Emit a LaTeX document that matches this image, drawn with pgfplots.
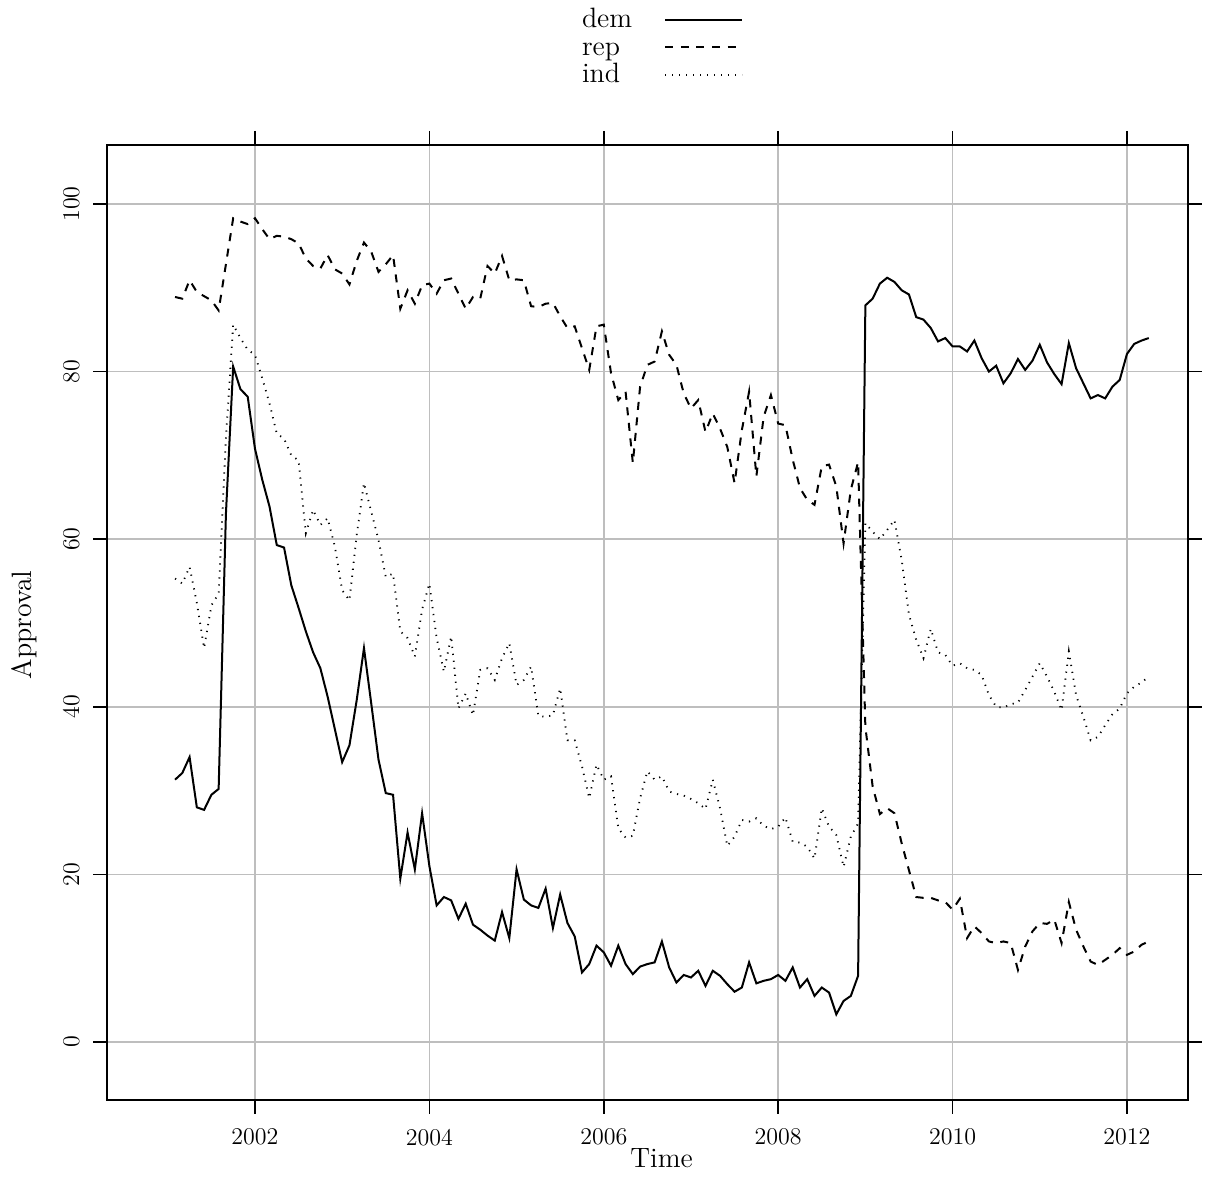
\documentclass[border=0pt]{standalone}
\usepackage{pgfplots}
\pgfplotsset{compat=1.18}
\usepackage{pgfplotstable}

\definecolor{gridgray}{RGB}{190,190,190}

% Monthly approval by party identification; m = months since January 2001
\pgfplotstableread{
m dem rep ind
1 31.3 88.9 55.3
2 32.1 88.7 54.7
3 34.0 90.9 56.7
4 28.0 89.5 52.4
5 27.7 89.0 47.0
6 29.5 88.5 52.1
7 30.2 87.3 53.5
8 63.0 92.8 72.0
9 80.6 98.3 85.6
10 77.9 97.9 84.0
11 77.0 97.6 82.6
12 70.8 98.3 82.0
13 67.1 97.0 79.2
14 63.9 95.8 76.2
15 59.3 96.2 72.6
16 59.0 96.1 72.0
17 54.5 95.8 70.0
18 51.8 95.3 69.4
19 49.0 93.5 60.7
20 46.5 92.6 63.5
21 44.6 92.3 61.7
22 41.2 93.9 62.5
23 37.3 92.2 59.1
24 33.4 91.7 53.9
25 35.4 90.4 52.7
26 40.8 93.2 60.5
27 47.0 95.4 66.7
28 40.4 94.3 63.3
29 33.7 91.9 59.9
30 29.7 92.8 55.5
31 29.5 93.9 55.9
32 19.5 87.5 49.0
33 25.0 89.7 48.2
34 20.6 88.1 46.0
35 27.3 90.3 51.6
36 21.0 90.5 54.7
37 16.3 89.3 48.2
38 17.3 90.9 44.2
39 16.9 91.1 48.4
40 14.7 89.3 39.8
41 16.5 87.5 41.6
42 14.0 88.9 39.0
43 13.4 88.7 44.4
44 12.7 92.6 44.6
45 12.1 91.7 43.2
46 15.5 93.8 45.8
47 12.4 90.9 47.6
48 20.6 91.0 42.6
49 17.0 90.9 43.2
50 16.3 87.8 44.8
51 16.0 87.7 38.9
52 18.3 88.1 38.8
53 13.6 88.2 39.0
54 17.6 86.6 42.2
55 14.2 85.2 36.0
56 12.6 85.4 36.0
57 8.3 82.8 32.9
58 9.3 80.2 29.1
59 11.5 85.4 33.1
60 10.7 85.6 31.3
61 9.1 79.8 31.7
62 11.5 76.6 25.5
63 9.3 77.6 24.4
64 8.1 69.1 24.6
65 9.0 78.2 29.1
66 9.3 80.8 32.3
67 9.5 81.2 31.3
68 12.0 84.8 31.7
69 8.9 82.0 29.9
70 7.1 80.8 29.6
71 8.0 77.4 29.4
72 7.7 75.6 29.0
73 8.5 76.6 28.5
74 6.7 72.8 27.8
75 8.5 75.0 31.3
76 7.9 73.2 27.9
77 6.9 71.0 23.4
78 6.0 66.7 24.5
79 6.5 73.0 26.5
80 9.5 77.6 26.3
81 7.0 67.5 26.7
82 7.3 74.6 25.8
83 7.5 77.2 25.4
84 8.0 73.8 25.7
85 7.3 73.6 26.8
86 8.9 69.5 23.9
87 6.5 66.1 23.8
88 7.5 64.7 23.3
89 5.5 64.1 21.9
90 6.5 68.7 27.9
91 5.9 68.9 25.7
92 3.3 66.3 24.7
93 4.9 59.5 20.9
94 5.5 65.9 24.5
95 7.9 69.2 26.1
96 87.9 37.6 61.9
97 88.7 30.5 60.9
98 90.5 27.2 60.0
99 91.2 27.9 61.1
100 90.7 27.3 62.3
101 89.7 23.7 57.5
102 89.2 20.5 51.0
103 86.5 17.3 48.0
104 86.2 17.2 45.8
105 85.2 17.2 49.3
106 83.6 16.9 46.5
107 84.0 16.7 46.2
108 83.0 15.8 44.9
109 83.0 17.1 45.2
110 82.4 12.4 44.6
111 83.7 13.8 44.4
112 81.6 13.0 43.8
113 80.0 12.0 41.4
114 80.7 11.8 40.0
115 78.6 12.0 39.9
116 79.8 11.8 40.3
117 81.5 8.6 40.5
118 80.2 11.4 42.0
119 81.3 13.2 43.6
120 83.2 14.2 45.2
121 81.1 14.1 43.6
122 79.7 14.6 41.8
123 78.5 11.8 39.6
124 83.4 16.7 46.6
125 80.4 13.4 41.4
126 78.6 11.4 38.8
127 76.8 9.6 36.0
128 77.2 9.2 36.4
129 76.8 9.8 37.8
130 78.2 10.4 39.1
131 79.0 11.2 39.8
132 82.1 10.4 41.6
133 83.3 10.8 42.4
134 83.7 11.6 42.9
135 84.0 12.0 43.6
}\approval

\begin{document}
\begin{tikzpicture}
\begin{axis}[
  at={(0pt,0pt)}, anchor=south west,
  scale only axis, width=540.5pt, height=477.5pt,
  xmin=2000.303, xmax=2012.70,
  ymin=-6.92, ymax=107.04,
  xtick={2002,2004,2006,2008,2010,2012},
  xticklabels={2002,2004,2006,2008,2010,2012},
  ytick={0,20,40,60,80,100},
  yticklabels={0,20,40,60,80,100},
  grid=major,
  major grid style={line width=0.8pt, color=gridgray},
  axis line style={line width=0.9pt, black},
  tick align=outside,
  major tick length=7pt,
  tick style={line width=0.8pt, black},
  ticklabel style={font=\fontsize{12}{14}\selectfont},
  xticklabel style={anchor=north, inner sep=0pt},
  xticklabel shift=7.3pt,
  yticklabel style={rotate=90, anchor=south, inner sep=0pt},
  yticklabel shift=6.5pt,
  xlabel={Time},
  ylabel={Approval},
  label style={font=\fontsize{14}{16}\selectfont, inner sep=0pt},
  xlabel style={at={(axis description cs:0.513,-0.0702)}, anchor=base},
  ylabel style={at={(axis description cs:-0.0694,0.4974)}, anchor=base},
  legend plot pos=right,
  legend style={
    at={(axis description cs:0.4394,1.1445)}, anchor=north west,
    draw=none, fill=none, inner sep=0pt, outer sep=0pt,
    font=\fontsize{14}{16}\selectfont,
    cells={anchor=base west},
    nodes={inner sep=0pt, text height=10.5pt, text depth=3.25pt},
    row sep=0pt,
  },
  legend image code/.code={%
    \path (0pt,0pt);
    \draw[#1] (16pt,4pt) -- (54.5pt,4pt);
  },
]
\addplot[black, line width=1pt] table[x expr=2001+\thisrow{m}/12, y=dem] {\approval};
\addlegendentry{dem}
\addplot[black, line width=1pt, dash pattern=on 4pt off 3.8pt] table[x expr=2001+\thisrow{m}/12, y=rep] {\approval};
\addlegendentry{rep}
\addplot[black, line width=0.9pt, dash pattern=on 0.6pt off 2.9pt] table[x expr=2001+\thisrow{m}/12, y=ind] {\approval};
\addlegendentry{ind}
\end{axis}
\pgfresetboundingbox
\path (-53.5pt,-51pt) rectangle (556.5pt,550pt);
\end{tikzpicture}
\end{document}
